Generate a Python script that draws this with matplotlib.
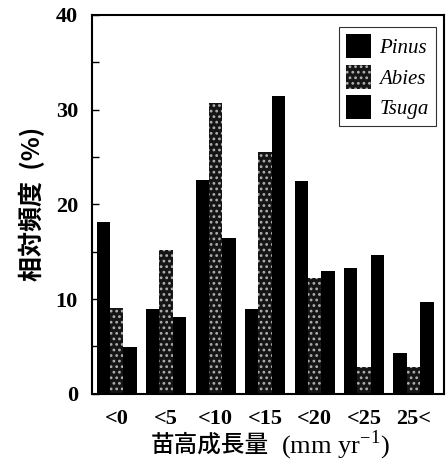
import numpy as np
import matplotlib
matplotlib.use("Agg")
import matplotlib.pyplot as plt
from matplotlib.ticker import MultipleLocator

# data
categories = ["<0", "<5", "<10", "<15", "<20", "<25", "25<"]
pinus = [18.1, 8.9, 22.6, 8.9, 22.5, 13.3, 4.3]
abies = [9.1, 15.2, 30.7, 25.5, 12.2, 2.8, 2.8]
tsuga = [4.9, 8.1, 16.4, 31.4, 13.0, 14.7, 9.7]

serif = ["Liberation Serif", "DejaVu Serif"]
cjk = ["Noto Sans CJK JP", "DejaVu Sans"]
plt.rcParams["mathtext.fontset"] = "custom"
plt.rcParams["mathtext.rm"] = "Liberation Serif"
plt.rcParams["hatch.linewidth"] = 1.2

fig = plt.figure(figsize=(4.46, 4.66), dpi=100)
ax = fig.add_axes([0.206, 0.155, 0.79, 0.813])

x = np.arange(len(categories))
w = 0.27
ax.bar(x - w, pinus, w, color="black", label="Pinus", linewidth=0)
ax.bar(x, abies, w, color="#151515", edgecolor="#b0b0b0", hatch="...",
       linewidth=0, label="Abies")
ax.bar(x + w, tsuga, w, color="black", label="Tsuga", linewidth=0)

ax.set_xlim(-0.5, 6.62)
ax.set_ylim(0, 40)
ax.yaxis.set_major_locator(MultipleLocator(10))
ax.yaxis.set_minor_locator(MultipleLocator(5))
ax.tick_params(axis="y", which="both", direction="in", length=5, width=1)
ax.tick_params(axis="x", length=0, pad=11)
ax.set_xticks(x)
ax.set_xticklabels(categories)
for lab in ax.get_xticklabels() + ax.get_yticklabels():
    lab.set_family(serif)
    lab.set_fontweight("bold")
    lab.set_fontsize(16)
ax.tick_params(axis="y", pad=10)

for s in ax.spines.values():
    s.set_linewidth(1.5)

ax.set_ylabel("相対頻度  (%)", family=cjk, fontweight="bold", fontsize=18, labelpad=8)
fig.text(0.338, 0.045, "苗高成長量", family=cjk, fontweight="medium", fontsize=17,
         ha="left", va="center")
fig.text(0.6, 0.045, "  (mm yr$^{-1}$)", family=serif, fontsize=19,
         ha="left", va="center")

leg = ax.legend(loc="upper right", prop={"family": serif, "style": "italic", "size": 15},
                fancybox=False, edgecolor="black", handlelength=1.2, handleheight=1.4,
                borderpad=0.35, labelspacing=0.3, handletextpad=0.4,
                bbox_to_anchor=(0.977, 0.968), borderaxespad=0)
leg.get_frame().set_linewidth(0.8)

fig.savefig("out.png", dpi=100)
